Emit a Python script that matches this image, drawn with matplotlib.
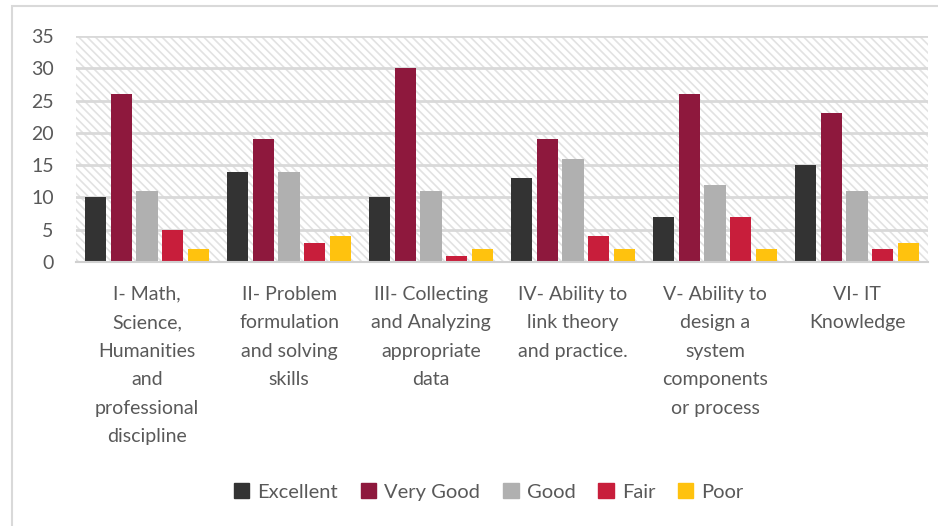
import matplotlib.pyplot as plt
from matplotlib.patches import Rectangle, Patch
import numpy as np

plt.rcParams['font.family'] = ['Lato', 'DejaVu Sans']
plt.rcParams['hatch.linewidth'] = 1.2
plt.rcParams['hatch.color'] = '#e2e2e2'

# data
categories = ["I- Math,\nScience,\nHumanities\nand\nprofessional\ndiscipline",
              "II- Problem\nformulation\nand solving\nskills",
              "III- Collecting\nand Analyzing\nappropriate\ndata",
              "IV- Ability to\nlink theory\nand practice.",
              "V- Ability to\ndesign a\nsystem\ncomponents\nor process",
              "VI- IT\nKnowledge"]
series_names = ["Excellent", "Very Good", "Good", "Fair", "Poor"]
excellent = [10, 14, 10, 13, 7, 15]
very_good = [26, 19, 30, 19, 26, 23]
good = [11, 14, 11, 16, 12, 11]
fair = [5, 3, 1, 4, 7, 2]
poor = [2, 4, 2, 2, 2, 3]
series = [excellent, very_good, good, fair, poor]
colors = ['#333333', '#8e183d', '#b0b0b0', '#c81e3b', '#ffc20e']

fig = plt.figure(figsize=(9.38, 5.26), dpi=100)
ax = fig.add_axes([76 / 938, 1 - 262 / 526, 852 / 938, 226 / 526])

# chart border (cropped on right/bottom)
fig.patches.append(Rectangle((11.5 / 938, -0.1), 2, (526 - 6) / 526 + 0.1,
                             transform=fig.transFigure, fill=False,
                             edgecolor='#d9d9d9', lw=1.5))

# hatched plot area
ax.add_patch(Rectangle((0, 0), 1, 1, transform=ax.transAxes, facecolor='white',
                       hatch='\\\\\\\\', edgecolor='#e2e2e2', lw=0, zorder=0))

x = np.arange(len(categories))
w = 0.148
step = 0.183
for i, (vals, c, name) in enumerate(zip(series, colors, series_names)):
    ax.bar(x + (i - 2) * step, vals, width=w, color=c, label=name, zorder=3)

ax.set_xlim(-0.5, len(categories) - 0.5)
ax.set_ylim(0, 35)
ax.set_yticks(range(0, 36, 5))
ax.yaxis.grid(True, color='#d9d9d9', lw=2, zorder=1)
ax.set_axisbelow(False)
for s in ['top', 'right', 'left']:
    ax.spines[s].set_visible(False)
ax.spines['bottom'].set_color('#d0d0d0')
ax.spines['bottom'].set_linewidth(1.5)
ax.spines['bottom'].set_zorder(4)
ax.tick_params(length=0, labelsize=14, labelcolor='#595959')
ax.tick_params(axis='y', pad=16)
ax.tick_params(axis='x', pad=17)
ax.set_xticks(x)
ax.set_xticklabels(categories, linespacing=1.82)

handles = [Patch(color=c, label=n) for c, n in zip(colors, series_names)]
fig.legend(handles=handles, loc='center', bbox_to_anchor=(489 / 938, 1 - 492 / 526),
           ncol=5, frameon=False, fontsize=14.5, labelcolor='#595959',
           handlelength=0.75, handleheight=0.75, handletextpad=0.4, columnspacing=1.15)

fig.savefig('out.png', dpi=100)
